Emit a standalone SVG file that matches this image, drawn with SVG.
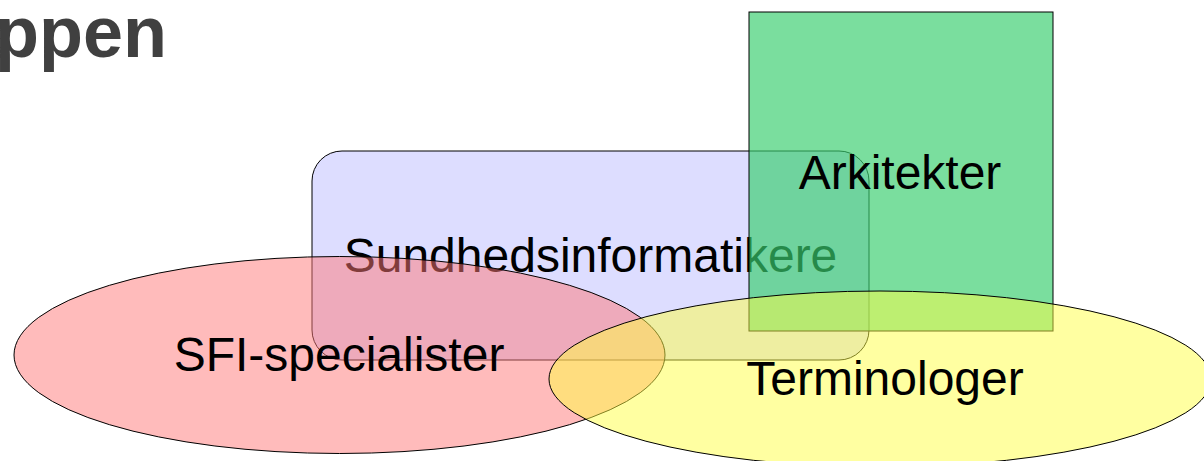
<svg xmlns="http://www.w3.org/2000/svg" width="1204" height="461" viewBox="0 0 1204 461">
  <style>
    .shape { stroke: #000; stroke-width: 1; }
    .label { font-family: "Liberation Sans", Arial, sans-serif; font-size: 48px; fill: #000; text-anchor: middle; }
    .title { font-family: "Liberation Sans", Arial, sans-serif; font-weight: bold; font-size: 72px; fill: #404040; text-anchor: end; }
  </style>
  <rect width="1204" height="461" fill="#fff"/>
  <text class="title" x="167" y="57">ppen</text>
  <g id="sundhedsinformatikere">
    <rect class="shape" x="312" y="151" width="557" height="209" rx="30" ry="30" fill="#BBBBFF" fill-opacity="0.5"/>
    <text class="label" x="590.5" y="272">Sundhedsinformatikere</text>
  </g>
  <g id="sfi-specialister">
    <ellipse class="shape" cx="339.5" cy="355" rx="325.5" ry="98.5" fill="#FF7777" fill-opacity="0.5"/>
    <text class="label" x="339" y="371">SFI-specialister</text>
  </g>
  <g id="arkitekter">
    <rect class="shape" x="749" y="12" width="304" height="319" fill="#39CE6E" fill-opacity="0.67"/>
    <text class="label" x="900" y="189">Arkitekter</text>
  </g>
  <g id="terminologer">
    <ellipse class="shape" cx="880" cy="379" rx="331" ry="88" fill="#FFFF44" fill-opacity="0.5"/>
    <text class="label" x="885" y="395">Terminologer</text>
  </g>
  <g id="connectors"/>
</svg>
